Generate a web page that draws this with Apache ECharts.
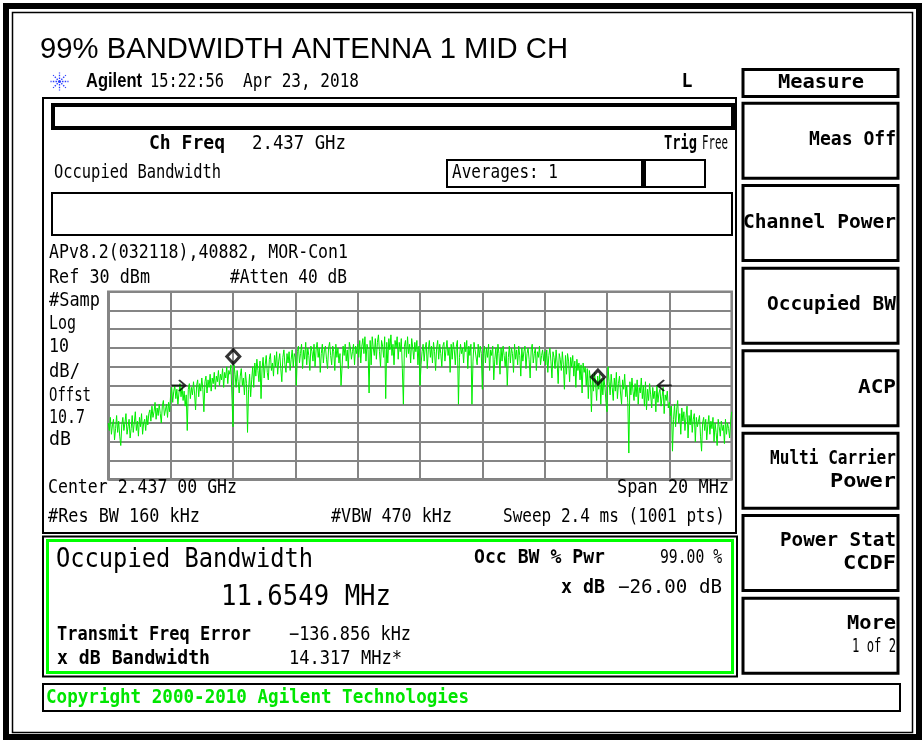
<!DOCTYPE html>
<html>
<head>
<meta charset="utf-8">
<script src="https://cdn.jsdelivr.net/npm/echarts@6/dist/echarts.min.js"></script>
<style>
html,body{margin:0;padding:0;background:#fff;}
#c{width:923px;height:740px;}
</style>
</head>
<body>
<div id="c"></div>
<script>
// ---------- DATA ----------
const centerGHz = 2.437;
const spanMHz = 20;
const refLevelDbm = 30;
const dbPerDiv = 10;
// trace (dBm), read division by division (each 2 MHz division, left to right)
const seg1 = [-40,-44,-37,-46,-41,-38,-49,-43,-36,-45,-39,-47,-52,-41,-37,-44,-40,-35,-46,-42,-38,-48,-43,-36,-45,-40,-34,-44,-39,-47,-37,-42,-35,-46,-40,-38,-44,-36,-41,-35,
  -33,-39,-31,-37,-34,-29,-38,-32,-36,-30,-35,-40,-31,-28,-36,-33,-30,-37,-29,-34];
const seg2 = [-25,-21,-29,-23,-20,-27,-22,-30,-24,-19,-26,-21,-28,-23,-31,-25,-44,
  -22,-19,-27,-21,-25,-18,-24,-33,-20,-17,-26,-19,-23,-16,-22,-34,-18,-15,-24,-17,-21,-14,-23,-16,-19,-13,-22,-15,-18,-12,-20,-14,-17,-11,-21,-13,-16,-10,-19,-12,-14,-9,-8];
const seg3 = [-42,-9,-14,-21,-12,-18,-24,-15,-11,-20,-16,-25,-13,-19,-45,-22,-14,-26,-17,-10,-21,-8,
  -15,-6,-12,-18,-7,-27,-11,-5,-16,-9,-4,-13,-17,-6,-3,-12,-8,-15,-4,-10,-2,-14,-7,-3,-11,-18,-5,-1,-9,-13,-3,-8,-2,-12,-6,-1,-10,-3];
const seg4 = [-5,-20,-2,1,-8,-3,2,-11,-1,-6,3,-9,0,-4,-12,1,-2,-7,2,-10,-1,3,-5,0,-13,-3,2,-8,-1,1,-6,-11,0,3,-4,-9,1,-2,-12,2,-5,0,-8,-3,-20,-10,1,-4,2,-7,-1,-11,3,0,-6,-2,2,-9,1,-3];
const seg5 = [2,-5,4,-8,1,5,-3,6,-7,2,-1,-24,4,-9,6,0,-4,5,-6,3,7,-2,-10,4,1,-5,6,-27,3,-8,5,-1,7,-4,2,-9,4,0,6,-6,3,-2,5,-11,-30,1,4,-5,6,-3,2,-8,5,0,-6,3,-2,4,-9,1];
const seg6 = [-20,-9,-2,2,-7,0,3,-11,-1,4,-5,1,-8,3,-2,-12,0,4,-6,2,-3,-10,1,3,-7,-1,4,-4,0,-13,2,-6,3,-1,-9,1,4,-30,-5,2,-3,0,-8,3,-2,4,-11,1,-4,2,-30,-7,3,-1,0,-9,2,-5,1,-3];
const seg7 = [-22,-3,1,-8,0,-5,2,-12,-1,-4,1,-17,-6,0,-9,2,-3,-14,0,-7,1,-4,-10,-2,-20,-5,1,-8,0,-3,-13,2,-6,-1,-9,1,-4,-15,0,-7,-2,1,-11,-3,0,-6,-16,-1,2,-8,-3,0,-12,-2,-5,1,-9,-4,-1,-7];
const seg8 = [-2,-9,-1,-13,-4,0,-7,-16,-2,-5,-11,-1,-8,-19,-3,-6,-12,-2,-9,-22,-4,-14,-3,-7,-18,-5,
  -10,-4,-15,-7,-21,-6,-12,-8,-17,-9,-24,-8,-13,-10,-20,-11,-27,-12,-16,-34,-14,-23,-13,-19,-28,-15,-22,-14,-30,-17,-25,-16,-21,-29];
const seg9 = [-34,-10,-18,-25,-14,-21,-28,-16,-23,-13,-27,-19,-15,-24,-30,-17,-22,-14,-26,-20,-29,-56,-18,-25,-16,-23,-28,-19,-26,-17,-30,-21,-24,-16,-27,-20,-31,-18,-33,-22,-28,-19,-25,-32,-21,-27,-23,-34,-20,-29,-24,-22,-31,-26,-21,-35,-25,-28,-23,-32];
const seg10 = [-29,-36,-31,-55,-38,-30,-42,-33,-28,-40,-35,-46,-32,-39,-34,-44,-37,-31,-48,-36,-41,-33,-45,-38,-35,-50,-37,-42,
  -39,-36,-47,-55,-40,-37,-44,-38,-49,-41,-36,-46,-39,-43,-37,-50,-40,-45,-52,-38,-42,-47,-39,-44,-41,-51,-38,-46,-40,-43,-48,-39,-34];
// occupied-BW markers (offset MHz, dBm)
const obwMarkerOffsetsMHz = [-5.99, 5.71];
const obwMarkerDbm = [-4.6, -15.5];
// x dB bandwidth edge arrows
const xdbArrowOffsetsMHz = [-7.75, 7.85];
const xdbArrowDbm = [-20, -20];
// softkeys
const softkeyLabels = [['Meas Off'],['Channel Power'],['Occupied BW'],['ACP'],['Multi Carrier','Power'],['Power Stat','CCDF'],['More','1 of 2']];

// ---------- BUILD ----------
const trace = [].concat(seg1,seg2,seg3,seg4,seg5,seg6,seg7,seg8,seg9,seg10);
const nPts = trace.length;
const traceData = trace.map((v,i)=>[-spanMHz/2 + spanMHz*i/(nPts-1), v]);

const mctx = document.createElement('canvas').getContext('2d');
const MONO = '"DejaVu Sans Mono", monospace';
const SANS = '"Liberation Sans", Arial, sans-serif';
function T(x, y, s, size, o){
  o = o || {};
  const font = (o.bold?'bold ':'') + size + 'px ' + (o.fam || MONO);
  mctx.font = font;
  const mw = mctx.measureText(s).width;
  const sx = o.w ? o.w / mw : 1;
  const al = o.align || 'left';
  return {type:'text', x:x, y:y, scaleX:sx, silent:true, z:10,
    style:{text:s, font:font, fill:o.color||'#000', textAlign:al, textVerticalAlign:'middle', align:al, verticalAlign:'middle'}};
}
function R(x,y,w,h,lw,color){
  return {type:'rect', shape:{x:x,y:y,width:w,height:h}, silent:true, z:5,
    style:{fill:'none', stroke:color||'#000', lineWidth:lw}};
}
function F(x,y,w,h,color){
  return {type:'rect', shape:{x:x,y:y,width:w,height:h}, silent:true, z:5, style:{fill:color||'#000'}};
}

const g = [];
// outer frame
g.push(R(6,6,913,731,6));
g.push(R(12.5,12.5,900,720,1.5));
// header
g.push(T(40,49.5,'99% BANDWIDTH ANTENNA 1 MID CH',29,{fam:SANS,w:528}));
// starburst icon
(function(){
  const cx=59.5, cy=81.5;
  for(let k=0;k<8;k++){
    const a=k*Math.PI/4;
    g.push({type:'line', silent:true, z:6, shape:{x1:cx+2.5*Math.cos(a), y1:cy+2.5*Math.sin(a), x2:cx+9*Math.cos(a), y2:cy+9*Math.sin(a)},
      style:{stroke:'#2a3cff', lineWidth:1.3, lineDash:[1.5,1.2]}});
  }
  g.push({type:'circle', silent:true, z:6, shape:{cx:cx,cy:cy,r:1.6}, style:{fill:'#2a3cff'}});
})();
g.push(T(86,81.5,'Agilent',20,{bold:true,fam:SANS,w:56}));
g.push(T(150,81.5,'15:22:56',20,{w:74}));
g.push(T(243,81.5,'Apr 23, 2018',20,{w:116}));
g.push(T(681.5,82,'L',19,{bold:true,w:11}));

// left panel
g.push(R(43,98,693,435,2));
g.push(R(53,105,680,23,4));
g.push(T(149,144.5,'Ch Freq',19,{bold:true,w:76}));
g.push(T(252,144.5,'2.437 GHz',19,{w:94}));
g.push(T(664,144.5,'Trig',19,{bold:true,w:33}));
g.push(T(702,144.5,'Free',19,{w:26}));
g.push(T(54,173,'Occupied Bandwidth',19,{w:167}));
g.push(R(447,160,258,27,2));
g.push(F(641,160,5,27));
g.push(T(452,173.5,'Averages: 1',19,{w:106}));
g.push(R(52,193,680,42,2));
g.push(T(49,252.7,'APv8.2(032118),40882, MOR-Con1',19,{w:299}));
g.push(T(49,278.3,'Ref 30 dBm',19,{w:101}));
g.push(T(230,278.3,'#Atten 40 dB',19,{w:117}));
[['#Samp',300.7,51],['Log',324,27],['10',347,20],['dB/',371.7,31],['Offst',395.7,42],['10.7',418.3,36],['dB',440,22]].forEach(a=>g.push(T(49,a[1],a[0],19,{w:a[2]})));
g.push(T(48,488,'Center 2.437 00 GHz',19,{w:189}));
g.push(T(729,488,'Span 20 MHz',19,{align:'right',w:112}));
g.push(T(48,517,'#Res BW 160 kHz',19,{w:152}));
g.push(T(331,517,'#VBW 470 kHz',19,{w:121}));
g.push(T(725,517,'Sweep 2.4 ms (1001 pts)',19,{align:'right',w:222}));

// result box
g.push(R(43,536.5,694,140,2));
g.push(R(47.5,540.5,685,132,3,'#00ff00'));
g.push(T(56,560,'Occupied Bandwidth',27,{w:257}));
g.push(T(221,597.5,'11.6549 MHz',28,{w:170}));
g.push(T(474,558.5,'Occ BW % Pwr',19,{bold:true,w:131}));
g.push(T(722,558.5,'99.00 %',19,{align:'right',w:62}));
g.push(T(605,588.5,'x dB',19,{bold:true,align:'right',w:44}));
g.push(T(722,588.5,'\u221226.00 dB',19,{align:'right',w:104}));
g.push(T(57,635,'Transmit Freq Error',19,{bold:true,w:194}));
g.push(T(289,635,'\u2212136.856 kHz',19,{w:122}));
g.push(T(57,659,'x dB Bandwidth',19,{bold:true,w:153}));
g.push(T(289,659,'14.317 MHz*',19,{w:113}));

// copyright bar
g.push(R(43,684,857,27,2));
g.push(T(46,698,'Copyright 2000-2010 Agilent Technologies',19,{bold:true,color:'#00e600',w:423}));

// softkeys
g.push(R(743,69.5,155,27,3));
g.push(T(821,82.5,'Measure',20,{bold:true,align:'center',w:86}));
const keyTops = [101.7,184,266.7,349.3,431.7,514,596.7];
const keyW = [[87],[153],[129],[38],[126,66],[116,53],[49,44]];
softkeyLabels.forEach((lab,i)=>{
  const top = keyTops[i];
  g.push(R(743,top+1.5,155,75,3));
  if(lab.length===1){
    g.push(T(896,top+38.5,lab[0],20,{bold:true,align:'right',w:keyW[i][0]}));
  } else {
    g.push(T(896,top+27,lab[0],20,{bold:true,align:'right',w:keyW[i][0]}));
    g.push(T(896,top+50,lab[1],20,{bold:i<6,align:'right',w:keyW[i][1]}));
  }
});

const gridLine = {lineStyle:{color:'#858585', width:2}};
const option = {
  backgroundColor:'#fff',
  animation:false,
  grid:{left:108.3, top:291.7, width:623.4, height:187.6, show:true, borderColor:'#808080', borderWidth:2.5, backgroundColor:'transparent', containLabel:false},
  xAxis:{type:'value', min:-spanMHz/2, max:spanMHz/2, interval:2,
    axisLabel:{show:false}, axisTick:{show:false}, axisLine:{show:false}, splitLine:gridLine},
  yAxis:{type:'value', min:refLevelDbm-10*dbPerDiv, max:refLevelDbm, interval:dbPerDiv,
    axisLabel:{show:false}, axisTick:{show:false}, axisLine:{show:false}, splitLine:gridLine},
  series:[
    {type:'line', data:traceData, showSymbol:false, symbol:'none', lineStyle:{color:'#00ee00', width:1}, z:3, silent:true},
    {type:'scatter', data:obwMarkerOffsetsMHz.map((x,i)=>[x,obwMarkerDbm[i]]), symbol:'diamond', symbolSize:[13,14],
      itemStyle:{color:'rgba(255,255,255,0)', borderColor:'#000', borderWidth:3}, z:5, silent:true},
    {type:'scatter', data:[[xdbArrowOffsetsMHz[0],xdbArrowDbm[0]]], symbol:'path://M0,5L12,5M6.5,0L12,5L6.5,10', symbolSize:[14,11],
      itemStyle:{color:'none', borderColor:'#000', borderWidth:2}, z:5, silent:true},
    {type:'scatter', data:[[xdbArrowOffsetsMHz[1],xdbArrowDbm[1]]], symbol:'path://M12,5L0,5M5.5,0L0,5L5.5,10', symbolSize:[14,11],
      itemStyle:{color:'none', borderColor:'#000', borderWidth:2}, z:5, silent:true}
  ],
  graphic:{elements:g}
};
const chart = echarts.init(document.getElementById('c'), null, {renderer:'canvas'});
chart.setOption(option);
</script>
</body>
</html>
